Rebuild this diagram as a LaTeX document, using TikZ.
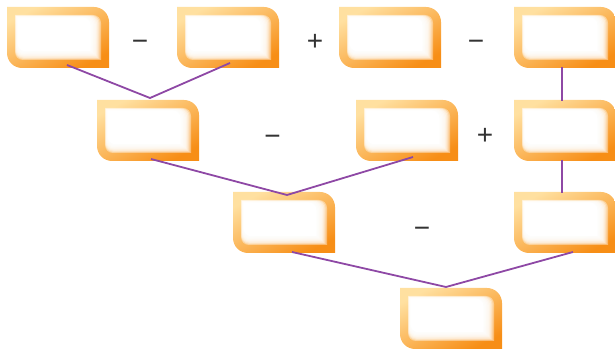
\documentclass[tikz,border=0pt]{standalone}
\usepackage{fontspec}
\setmainfont{Liberation Sans}
\usetikzlibrary{calc}
\definecolor{boxlight}{HTML}{FFE0A0}
\definecolor{boxdark}{HTML}{F78E16}
\definecolor{linkc}{RGB}{142,72,165}
\definecolor{opc}{HTML}{333333}
\newcommand\bshape[4]{({-51+(#1)},{30.5-(#1)}) -- ({51-(#3)-(#2)},{30.5-(#1)}) arc[start angle=90,end angle=0,radius=#2] -- ({51-(#3)},{-30.5+(#4)}) -- ({-51+(#1)+(#2)},{-30.5+(#4)}) arc[start angle=270,end angle=180,radius=#2] -- cycle}
\newcommand\obox[3]{%
  \node[boxnode] (#1) at (#2,#3) {};
  \begin{scope}[shift={(#1.center)}]
    \shade[top color=boxlight, bottom color=boxdark, shading angle=28] \bshape{0}{15}{0}{0};
    \foreach \k in {0,...,7}{\fill[white,opacity=0.4] \bshape{8+0.3*\k}{8}{8+1.3*\k}{8+1.1*\k};}
    \fill[white] \bshape{10.4}{8}{18.4}{16.8};
  \end{scope}}
\tikzset{
  boxnode/.style={rectangle, minimum width=102pt, minimum height=61pt, inner sep=0pt, outer sep=0pt},
  opnode/.style={font=\fontsize{28}{30}\selectfont, text=opc, inner sep=0pt, anchor=base},
  link/.style={draw=linkc, line width=1.8pt}
}
\begin{document}
\begin{tikzpicture}[x=1pt,y=1pt]
\useasboundingbox (0,0) rectangle (615,350);
% row 1
\obox{A1}{58}{312.5}
\obox{A2}{228}{312.5}
\obox{A3}{390}{312.5}
\obox{A4}{565}{312.5}
% row 2
\obox{B1}{148}{219.5}
\obox{B2}{407}{219.5}
\obox{B3}{565}{219.5}
% row 3
\obox{C1}{284}{127.5}
\obox{C2}{565}{127.5}
% row 4
\obox{D1}{451}{31.5}
% operators
\node[opnode] (o1) at (140,299) {−};
\node[opnode] (o2) at (315,299) {+};
\node[opnode] (o3) at (476,299) {−};
\node[opnode] (o4) at (272.5,204) {−};
\node[opnode] (o5) at (485,205) {+};
\node[opnode] (o6) at (422,112) {−};
% connectors
\draw[link] ($(A1.south)+(9,3)$) -- ($(B1.north)+(2,2)$) -- ($(A2.south)+(2,5)$);
\draw[link] ($(B1.south)+(3,2)$) -- ($(C1.north)+(3,-3)$) -- ($(B2.south)+(6,4)$);
\draw[link] ($(C1.south)+(8,1)$) -- ($(D1.north)+(-5,1)$) -- ($(C2.south)+(8,1)$);
\draw[link] ($(A4.south)+(-3,1)$) -- ($(B3.north)+(-3,-1)$);
\draw[link] ($(B3.south)+(-3,1)$) -- ($(C2.north)+(-3,-1)$);
\end{tikzpicture}
\end{document}
